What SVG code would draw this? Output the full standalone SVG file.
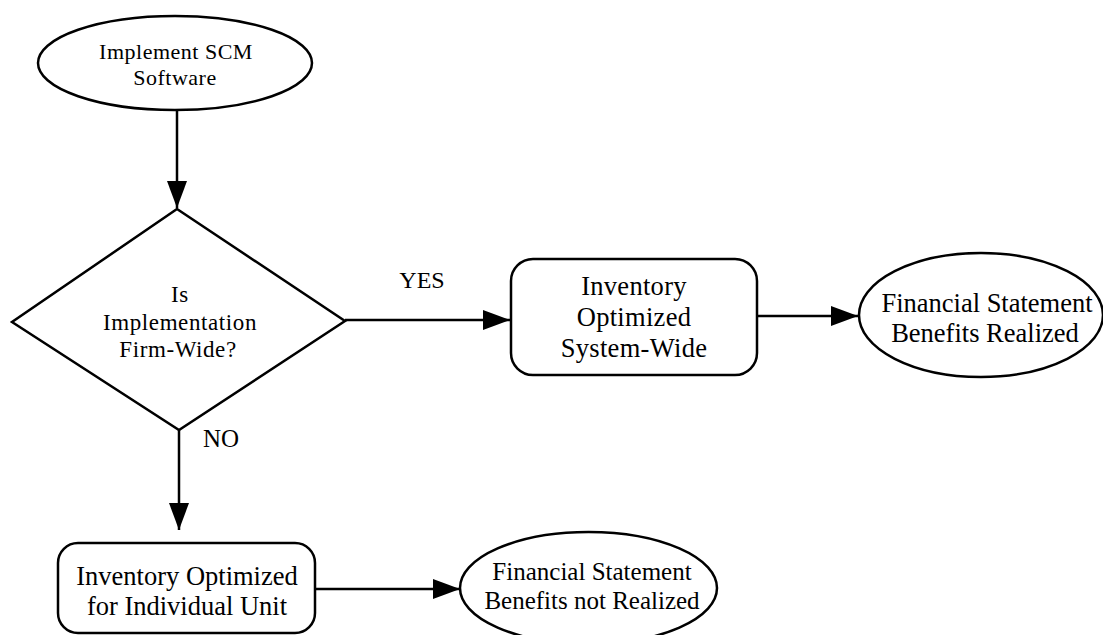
<svg xmlns="http://www.w3.org/2000/svg" width="1103" height="635" viewBox="0 0 1103 635">
<style>
.s{fill:#fff;stroke:#000;stroke-width:2.5}
.t{font-family:"Liberation Serif","Times New Roman",serif;fill:#000;text-anchor:middle}
.c{stroke:#000;stroke-width:2.5;fill:none}
</style>
<defs>
<marker id="ah" markerUnits="userSpaceOnUse" markerWidth="28" markerHeight="22" refX="27" refY="10" orient="auto">
<path d="M0,0 L27,10 L0,20 Z" fill="#000"/>
</marker>
</defs>
<rect width="1103" height="635" fill="#fff"/>
<g id="connectors">
<line class="c" x1="177" y1="110" x2="177" y2="208" marker-end="url(#ah)"/>
<line class="c" x1="345" y1="320" x2="510" y2="320" marker-end="url(#ah)"/>
<line class="c" x1="757" y1="316" x2="858" y2="316" marker-end="url(#ah)"/>
<line class="c" x1="179" y1="430" x2="179" y2="530" marker-end="url(#ah)"/>
<line class="c" x1="315" y1="589" x2="460" y2="589" marker-end="url(#ah)"/>
<text class="t" x="422" y="288" font-size="24">YES</text>
<text class="t" x="221" y="447" font-size="25">NO</text>
</g>
<g id="start">
<ellipse class="s" cx="175" cy="63" rx="137" ry="47"/>
<text class="t" x="176" y="59" font-size="22" letter-spacing="0.5">Implement SCM</text>
<text class="t" x="175" y="85" font-size="22" letter-spacing="0.5">Software</text>
</g>
<g id="decision">
<polygon class="s" points="177,209 345,321 179,430 12,322"/>
<text class="t" x="180" y="302" font-size="23" letter-spacing="0.6">Is</text>
<text class="t" x="180" y="330" font-size="23" letter-spacing="0.6">Implementation</text>
<text class="t" x="178" y="357" font-size="23" letter-spacing="0.6">Firm-Wide?</text>
</g>
<g id="sysWide">
<rect class="s" x="511" y="259" width="246" height="116" rx="22"/>
<text class="t" x="634" y="295" font-size="26.5" letter-spacing="0.3">Inventory</text>
<text class="t" x="634" y="326" font-size="26.5" letter-spacing="0.3">Optimized</text>
<text class="t" x="634" y="357" font-size="26.5" letter-spacing="0.3">System-Wide</text>
</g>
<g id="realized">
<ellipse class="s" cx="981" cy="315" rx="122" ry="62"/>
<text class="t" x="987" y="312" font-size="26.5">Financial Statement</text>
<text class="t" x="985" y="342" font-size="26.5">Benefits Realized</text>
</g>
<g id="unit">
<rect class="s" x="58" y="543" width="257" height="90" rx="20"/>
<text class="t" x="187" y="585" font-size="26.5">Inventory Optimized</text>
<text class="t" x="187" y="615" font-size="26.5">for Individual Unit</text>
</g>
<g id="notRealized">
<ellipse class="s" cx="588.5" cy="588" rx="128.5" ry="56"/>
<text class="t" x="592" y="580" font-size="25">Financial Statement</text>
<text class="t" x="592" y="609" font-size="25">Benefits not Realized</text>
</g>
</svg>
